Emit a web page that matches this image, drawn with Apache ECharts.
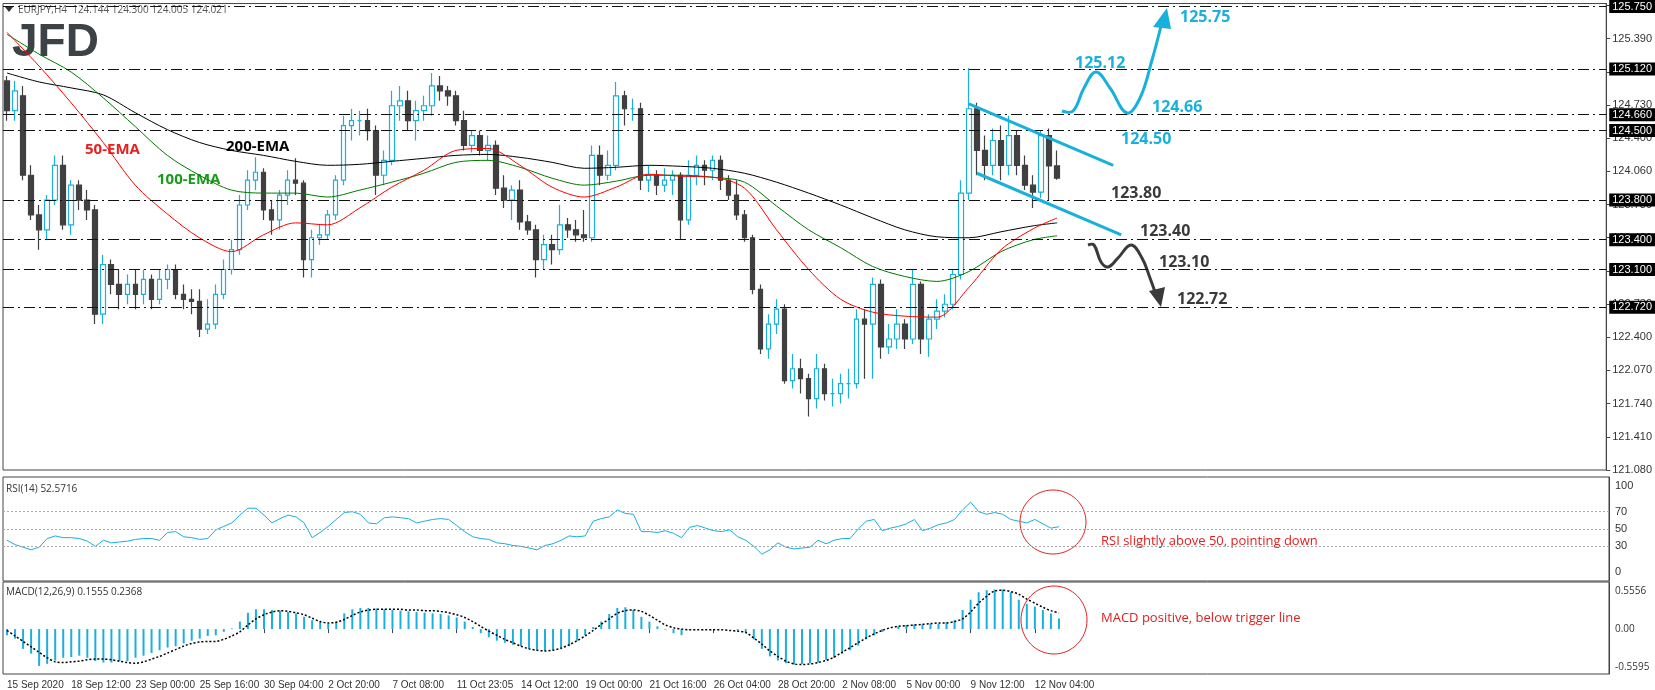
<!DOCTYPE html>
<html>
<head>
<meta charset="utf-8">
<script src="https://cdn.jsdelivr.net/npm/echarts@6/dist/echarts.min.js"></script>
<style>
html,body{margin:0;padding:0;background:#fff;}
#main{width:1655px;height:690px;}
</style>
</head>
<body>
<div id="main"></div>
<script>
// EURJPY H4 - candles are [open, close, low, high], 2 bars per slot
var candles = [
[125.00,124.70,124.60,125.05],[124.70,124.90,124.60,125.00],[124.85,124.05,124.00,124.95],[124.05,123.65,123.60,124.15],
[123.65,123.50,123.30,123.75],[123.50,123.80,123.40,123.85],[123.80,124.15,123.75,124.25],[124.15,123.55,123.50,124.25],
[123.55,123.95,123.45,124.00],[123.95,123.80,123.70,124.00],[123.80,123.70,123.60,123.90],[123.70,122.65,122.55,123.75],
[122.65,123.15,122.55,123.25],[123.15,122.95,122.85,123.20],[122.95,122.85,122.70,123.10],[122.85,122.95,122.75,123.05],
[122.95,122.85,122.70,123.10],[122.85,123.00,122.75,123.10],[123.00,122.80,122.70,123.05],[122.80,123.00,122.75,123.10],
[123.00,123.10,122.90,123.15],[123.10,122.85,122.80,123.15],[122.85,122.80,122.70,122.95],[122.80,122.78,122.65,122.90],
[122.78,122.50,122.42,122.90],[122.50,122.55,122.45,122.80],[122.55,122.85,122.50,122.95],[122.85,123.10,122.80,123.20],
[123.10,123.30,123.05,123.40],[123.30,123.75,123.25,123.85],[123.75,124.00,123.70,124.10],[124.00,124.08,123.90,124.23],
[124.08,123.70,123.60,124.12],[123.70,123.60,123.45,123.80],[123.60,123.85,123.50,123.90],[123.85,124.00,123.75,124.10],
[124.00,123.97,123.85,124.22],[123.97,123.20,123.02,124.00],[123.20,123.42,123.02,123.50],[123.42,123.45,123.35,123.55],
[123.45,123.65,123.40,123.70],[123.65,124.00,123.60,124.05],[124.00,124.55,123.95,124.65],[124.55,124.60,124.40,124.72],
[124.60,124.60,124.45,124.70],[124.60,124.50,124.40,124.72],[124.50,124.05,123.85,124.55],[124.05,124.20,123.95,124.30],
[124.20,124.75,124.15,124.90],[124.75,124.80,124.60,124.95],[124.80,124.60,124.50,124.90],[124.60,124.70,124.40,124.80],
[124.70,124.75,124.60,124.85],[124.75,124.95,124.65,125.08],[124.95,124.90,124.80,125.05],[124.90,124.85,124.75,124.95],
[124.85,124.60,124.55,124.90],[124.60,124.35,124.30,124.70],[124.35,124.45,124.28,124.50],[124.45,124.30,124.25,124.50],
[124.30,124.35,124.20,124.45],[124.35,123.92,123.85,124.40],[123.92,123.80,123.72,124.05],[123.80,123.90,123.60,123.95],
[123.90,123.58,123.50,124.00],[123.58,123.50,123.45,123.65],[123.50,123.20,123.02,123.55],[123.20,123.35,123.10,123.45],
[123.35,123.30,123.15,123.45],[123.30,123.55,123.25,123.75],[123.55,123.50,123.42,123.62],[123.50,123.45,123.38,123.60],
[123.45,123.42,123.38,123.70],[123.42,124.25,123.38,124.35],[124.25,124.05,123.95,124.35],[124.05,124.15,124.00,124.30],
[124.15,124.85,124.10,124.99],[124.85,124.72,124.55,124.90],[124.72,124.72,124.60,124.82],[124.72,124.00,123.90,124.78],
[124.00,124.05,123.88,124.15],[124.05,123.95,123.85,124.10],[123.95,124.00,123.88,124.12],[124.00,124.05,123.85,124.10],
[124.05,123.60,123.40,124.08],[123.60,124.05,123.55,124.20],[124.05,124.15,123.95,124.25],[124.15,124.10,123.95,124.20],
[124.10,124.20,124.00,124.25],[124.20,124.00,123.90,124.25],[124.00,123.85,123.80,124.05],[123.85,123.65,123.60,124.00],
[123.65,123.42,123.38,123.70],[123.42,122.90,122.85,123.45],[122.90,122.30,122.25,122.95],[122.30,122.55,122.20,122.65],
[122.55,122.70,122.45,122.80],[122.70,121.98,121.95,122.75],[121.98,122.10,121.90,122.25],[122.10,122.00,121.85,122.20],
[122.00,121.80,121.62,122.05],[121.80,122.10,121.70,122.25],[122.10,121.85,121.78,122.15],[121.85,121.85,121.72,122.00],
[121.85,121.95,121.75,122.05],[121.95,121.95,121.80,122.10],[121.95,122.60,121.90,122.70],[122.60,122.55,122.00,122.70],
[122.55,122.95,122.00,123.02],[122.95,122.32,122.20,123.00],[122.32,122.40,122.25,122.55],[122.40,122.55,122.30,122.70],
[122.55,122.40,122.30,122.60],[122.40,122.95,122.35,123.10],[122.95,122.40,122.25,122.98],[122.40,122.60,122.22,122.65],
[122.60,122.68,122.50,122.80],[122.68,122.75,122.62,122.85],[122.75,123.05,122.70,123.10],[123.05,123.87,123.00,124.00],
[123.87,124.72,123.80,125.13],[124.72,124.30,124.05,124.78],[124.30,124.15,124.00,124.45],[124.15,124.40,124.05,124.52],
[124.40,124.15,124.00,124.55],[124.15,124.45,124.05,124.65],[124.45,124.15,124.05,124.50],[124.15,123.95,123.90,124.25],
[123.95,123.88,123.72,124.05],[123.88,124.45,123.82,124.50],[124.45,124.144,123.80,124.52],[124.144,124.021,124.005,124.30]
];
// moving averages read every 4th slot: [slot, value]
var ema50 = [[0,125.49],[4,125.15],[8,124.78],[12,124.38],[16,123.95],[20,123.66],[24,123.42],[28,123.28],[32,123.45],[36,123.57],[40,123.55],[44,123.72],[48,123.93],[52,124.10],[56,124.30],[60,124.32],[64,124.15],[68,123.93],[72,123.83],[76,123.93],[80,124.06],[84,124.04],[88,124.03],[92,123.92],[96,123.50],[100,123.10],[104,122.80],[108,122.67],[112,122.63],[116,122.62],[120,122.92],[124,123.30],[128,123.51],[131,123.62]];
var ema100 = [[0,125.47],[4,125.27],[8,125.09],[12,124.83],[16,124.54],[20,124.25],[24,124.05],[28,123.90],[32,123.87],[36,123.87],[40,123.83],[44,123.90],[48,123.98],[52,124.07],[56,124.18],[60,124.20],[64,124.13],[68,124.02],[72,123.95],[76,123.99],[80,124.05],[84,124.05],[88,124.03],[92,123.98],[96,123.74],[100,123.50],[104,123.32],[108,123.13],[112,123.03],[116,122.98],[120,123.08],[124,123.28],[128,123.40],[131,123.44]];
var ema200 = [[0,125.08],[4,124.99],[8,124.93],[12,124.86],[16,124.68],[20,124.51],[24,124.38],[28,124.30],[32,124.25],[36,124.19],[40,124.15],[44,124.16],[48,124.19],[52,124.22],[56,124.25],[60,124.26],[64,124.23],[68,124.18],[72,124.12],[76,124.13],[80,124.15],[84,124.14],[88,124.12],[92,124.07],[96,123.98],[100,123.87],[104,123.75],[108,123.62],[112,123.50],[116,123.43],[120,123.42],[124,123.48],[128,123.54],[131,123.57]];
var rsi = [37,32,29,26,29,39,42,40,40,39,36,30,37,34,35,36,38,39,39,37,46,47,41,40,38,39,49,53,57,66,74,74,66,57,62,66,64,57,40,46,53,61,69,70,67,57,56,63,64,63,62,57,59,61,62,61,54,47,41,39,38,34,33,31,30,28,26,31,33,37,42,41,42,59,62,64,72,68,67,47,47,46,48,45,40,52,54,51,48,47,49,41,37,30,21,26,34,29,27,28,29,37,33,37,39,39,50,59,61,48,51,53,56,61,48,51,55,57,61,72,81,70,67,69,67,61,59,57,61,56,51,52.57];
var macdHist = [-0.09,-0.14,-0.29,-0.36,-0.54,-0.51,-0.46,-0.42,-0.41,-0.39,-0.42,-0.47,-0.49,-0.49,-0.47,-0.47,-0.42,-0.39,-0.35,-0.31,-0.27,-0.25,-0.21,-0.17,-0.14,-0.10,-0.09,-0.04,0.01,0.11,0.24,0.29,0.29,0.28,0.27,0.25,0.23,0.18,0.13,0.11,0.08,0.11,0.23,0.29,0.31,0.31,0.30,0.29,0.28,0.27,0.26,0.25,0.24,0.23,0.22,0.20,0.17,0.11,0.03,-0.06,-0.12,-0.17,-0.20,-0.23,-0.25,-0.29,-0.31,-0.32,-0.31,-0.28,-0.25,-0.17,-0.09,0.03,0.11,0.22,0.31,0.32,0.28,0.18,0.11,0.04,-0.01,-0.06,-0.09,-0.01,0.00,0.00,0.00,0.00,0.00,-0.02,-0.05,-0.15,-0.29,-0.40,-0.46,-0.50,-0.52,-0.51,-0.50,-0.49,-0.45,-0.42,-0.36,-0.31,-0.24,-0.15,-0.09,-0.04,0.00,0.04,0.06,0.07,0.07,0.08,0.08,0.10,0.13,0.28,0.43,0.54,0.57,0.58,0.58,0.54,0.43,0.37,0.33,0.28,0.23,0.1555];
var macdSignal = [-0.02,-0.10,-0.18,-0.26,-0.34,-0.42,-0.48,-0.49,-0.48,-0.47,-0.45,-0.44,-0.44,-0.45,-0.47,-0.49,-0.50,-0.48,-0.44,-0.40,-0.35,-0.30,-0.25,-0.21,-0.19,-0.18,-0.18,-0.15,-0.10,-0.04,0.06,0.15,0.21,0.25,0.27,0.26,0.24,0.21,0.16,0.11,0.09,0.10,0.14,0.20,0.25,0.28,0.29,0.29,0.29,0.29,0.28,0.28,0.27,0.27,0.26,0.24,0.21,0.17,0.11,0.04,-0.03,-0.09,-0.15,-0.20,-0.25,-0.29,-0.31,-0.32,-0.31,-0.28,-0.23,-0.17,-0.10,-0.02,0.07,0.15,0.23,0.27,0.28,0.26,0.20,0.13,0.06,0.02,0.00,-0.01,-0.01,-0.01,-0.01,-0.01,-0.02,-0.03,-0.05,-0.13,-0.22,-0.32,-0.40,-0.47,-0.51,-0.52,-0.51,-0.49,-0.46,-0.41,-0.34,-0.27,-0.20,-0.13,-0.07,-0.02,0.02,0.04,0.05,0.06,0.07,0.08,0.09,0.09,0.11,0.15,0.25,0.38,0.48,0.56,0.57,0.55,0.51,0.44,0.38,0.32,0.27,0.2368];
var xLabels = ['15 Sep 2020','18 Sep 12:00','23 Sep 00:00','25 Sep 16:00','30 Sep 04:00','2 Oct 20:00','7 Oct 08:00','11 Oct 23:05','14 Oct 12:00','19 Oct 00:00','21 Oct 16:00','26 Oct 04:00','28 Oct 20:00','2 Nov 08:00','5 Nov 00:00','9 Nov 12:00','12 Nov 04:00'];
var priceTicks = [121.080,121.410,121.740,122.070,122.400,122.730,123.070,123.400,123.730,124.060,124.400,124.730,125.060,125.390,125.720];
var levels = [125.75,125.12,124.66,124.50,123.80,123.40,123.10,122.72];
var lastPrice = 124.021;
var rsiTicks = [0,30,50,70,100];
var macdTicks = [0.5556,0.00,-0.5595];
var upChannel = [[120,124.77],[138,124.15]];
var lowChannel = [[121,124.07],[139,123.45]];

var CYAN = '#19b0dc', BEAR = '#404040';
var slots = [];
for (var i = 0; i < 200; i++) slots.push(String(i));
function sparse(pts){
  var a = new Array(candles.length).fill(null);
  pts.forEach(function(p){ a[p[0]] = p[1]; });
  return a;
}
function isLabelSlot(i){ return i % 8 === 0 && i / 8 < xLabels.length; }
var tickFont = {fontFamily:'Liberation Sans', fontSize:11, color:'#333'};

var myChart = echarts.init(document.getElementById('main'));
var option = {
  animation:false,
  backgroundColor:'#fff',
  grid:[
    {left:3, right:46, top:2, height:468, show:true, borderColor:'#444'},
    {left:3, right:46, top:477, height:104, show:true, borderColor:'#444'},
    {left:3, right:46, top:582, height:92, show:true, borderColor:'#444'}
  ],
  xAxis:[
    {type:'category', gridIndex:0, data:slots, show:false},
    {type:'category', gridIndex:1, data:slots, show:false},
    {type:'category', gridIndex:2, data:slots, axisLine:{show:false},
     axisTick:{show:true, interval:isLabelSlot, length:4, lineStyle:{color:'#444'}, alignWithLabel:true},
     axisLabel:{interval:isLabelSlot, formatter:function(v,i){return xLabels[i/8]||'';},
       align:'left', margin:6, fontFamily:'Liberation Sans', fontSize:10, color:'#333'}}
  ],
  yAxis:[
    {type:'value', gridIndex:0, position:'right', min:121.08, max:125.78, interval:0.3343, scale:true,
     axisLine:{show:true, lineStyle:{color:'#444'}}, axisTick:{show:true, length:4}, splitLine:{show:false},
     axisLabel:Object.assign({margin:6, formatter:function(v){
        var best = priceTicks[0];
        priceTicks.forEach(function(t){ if (Math.abs(t-v) < Math.abs(best-v)) best = t; });
        return best.toFixed(3);}}, tickFont)},
    {type:'value', gridIndex:1, position:'right', min:-10, max:110, interval:10,
     axisLine:{show:true, lineStyle:{color:'#444'}}, axisTick:{show:false}, splitLine:{show:false},
     axisLabel:Object.assign({margin:6, formatter:function(v){return rsiTicks.indexOf(v)>=0 ? String(v) : '';}}, tickFont)},
    {type:'value', gridIndex:2, position:'right', min:-0.658, max:0.69,
     axisLine:{show:true, lineStyle:{color:'#444'}}, axisTick:{show:false}, splitLine:{show:false}, axisLabel:{show:false}}
  ],
  series:[
    {type:'candlestick', xAxisIndex:0, yAxisIndex:0, data:candles, barWidth:5,
     itemStyle:{color:'#fff', borderColor:CYAN, color0:BEAR, borderColor0:BEAR, borderWidth:1.2},
     markLine:{silent:true, symbol:'none', animation:false, data:
       levels.map(function(v){return {yAxis:v, lineStyle:{color:'#111', width:1, type:[11,4,2,4]},
         label:{show:true, position:'end', formatter:v.toFixed(3), backgroundColor:'#000', color:'#fff',
           fontFamily:'Liberation Sans', fontSize:11, padding:[1,3], distance:3}};})
       .concat([{yAxis:lastPrice, lineStyle:{opacity:0},
         label:{show:true, position:'end', formatter:lastPrice.toFixed(3), backgroundColor:'#555', color:'#fff',
           fontFamily:'Liberation Sans', fontSize:11, padding:[1,3], distance:3}}])
       .concat([upChannel, lowChannel].map(function(c){return [
         {coord:c[0], lineStyle:{color:CYAN, width:3, type:'solid'}, label:{show:false}},
         {coord:c[1]}];}))
     }},
    {type:'line', xAxisIndex:0, yAxisIndex:0, data:sparse(ema200), connectNulls:true, smooth:0.3, symbol:'none', lineStyle:{color:'#000', width:1}},
    {type:'line', xAxisIndex:0, yAxisIndex:0, data:sparse(ema100), connectNulls:true, smooth:0.3, symbol:'none', lineStyle:{color:'#007a00', width:1}},
    {type:'line', xAxisIndex:0, yAxisIndex:0, data:sparse(ema50), connectNulls:true, smooth:0.3, symbol:'none', lineStyle:{color:'#ff0000', width:1}},
    {type:'line', xAxisIndex:1, yAxisIndex:1, data:rsi, symbol:'none', lineStyle:{color:CYAN, width:1},
     markLine:{silent:true, symbol:'none', label:{show:false}, lineStyle:{color:'#aaa', type:[2,2], width:1},
       data:[{yAxis:70},{yAxis:50},{yAxis:30}]}},
    {type:'bar', xAxisIndex:2, yAxisIndex:2, data:macdHist, barWidth:2, itemStyle:{color:CYAN}},
    {type:'line', xAxisIndex:2, yAxisIndex:2, data:macdSignal, symbol:'none', smooth:0.3, lineStyle:{color:'#000', width:1.5, type:[2,2]}}
  ]
};
myChart.setOption(option);

// annotations
function txt(x,y,s,color,size,weight,align){
  return {type:'text', x:x, y:y, style:{text:s, fill:color, font:(weight||'normal')+' '+size+'px "Open Sans"', textAlign:align||'left', textVerticalAlign:'middle'}};
}
var g = [
  {type:'polygon', shape:{points:[[5,7],[13,7],[9,12]]}, style:{fill:'#333'}},
  txt(18,10,'EURJPY,H4  124.144 124.300 124.005 124.021','#555',10),
  {type:'text', x:12, y:20, style:{text:'JFD', fill:'#3d4247', font:'bold 46px "Liberation Sans"'}},
  txt(85,150,'50-EMA','#e82020',15,'bold'),
  txt(226,147,'200-EMA','#000',15,'bold'),
  txt(157,180,'100-EMA','#1a9a1a',15,'bold'),
  {type:'polyline', shape:{smooth:0.4, points:[[1062,111],[1073,111],[1084,88],[1096,72],[1110,88],[1127,113],[1140,98],[1152,60],[1162,22]]},
   style:{stroke:CYAN, lineWidth:3, fill:null}},
  {type:'polygon', shape:{points:[[1167,8],[1153,27],[1171,29]]}, style:{fill:CYAN}},
  {type:'polyline', shape:{smooth:0.4, points:[[1088,245],[1094,245],[1101,262],[1108,267],[1118,258],[1131,245],[1142,258],[1150,278],[1155,292]]},
   style:{stroke:'#3a3a3a', lineWidth:3, fill:null}},
  {type:'polygon', shape:{points:[[1161,307],[1149,291],[1165,287]]}, style:{fill:'#3a3a3a'}},
  txt(1075,63,'125.12',CYAN,16,'bold'),
  txt(1152,107,'124.66',CYAN,16,'bold'),
  txt(1121,139,'124.50',CYAN,16,'bold'),
  txt(1180,17,'125.75',CYAN,16,'bold'),
  txt(1111,193,'123.80','#3a3a3a',16,'bold'),
  txt(1140,231,'123.40','#3a3a3a',16,'bold'),
  txt(1159,262,'123.10','#3a3a3a',16,'bold'),
  txt(1177,299,'122.72','#3a3a3a',16,'bold'),
  txt(6,489,'RSI(14) 52.5716','#333',10),
  txt(6,592,'MACD(12,26,9) 0.1555 0.2368','#333',10),
  {type:'ellipse', shape:{cx:1053, cy:522, rx:33, ry:32}, style:{stroke:'#e02020', fill:null, lineWidth:1}},
  {type:'ellipse', shape:{cx:1054, cy:620, rx:33, ry:34}, style:{stroke:'#e02020', fill:null, lineWidth:1}},
  txt(1101,541,'RSI slightly above 50, pointing down','#e02020',13),
  txt(1101,618,'MACD positive, below trigger line','#e02020',13)
];
macdTicks.forEach(function(v){
  var y = myChart.convertToPixel({yAxisIndex:2}, v);
  g.push(txt(1615, y, v.toFixed(v === 0 ? 2 : 4), '#333', 10));
});
myChart.setOption({graphic:g});
</script>
</body>
</html>
